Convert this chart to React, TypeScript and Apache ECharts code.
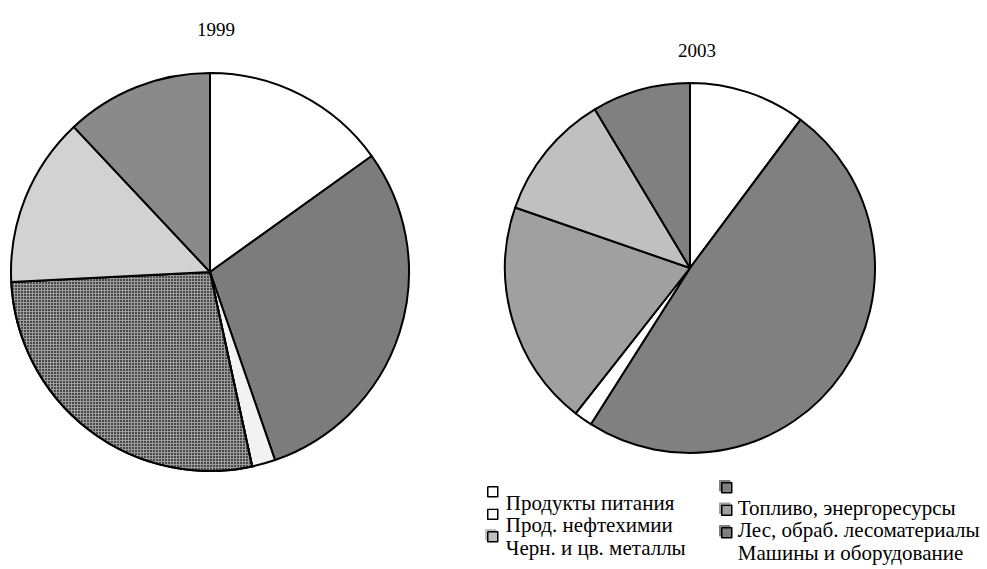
import React, { useEffect, useRef } from "react";
import * as echarts from "echarts";

const categories = [
  "Продукты питания",
  "Топливо, энергоресурсы",
  "Прод. нефтехимии",
  "Лес, обраб. лесоматериалы",
  "Черн. и цв. металлы",
  "Машины и оборудование",
];
const values1999 = [15.1, 29.6, 1.9, 27.6, 13.8, 12.0];
const values2003 = [10.2, 48.8, 1.6, 19.7, 11.1, 8.6];
const years = ["1999", "2003"];
const legendCol1 = ["Продукты питания", "Прод. нефтехимии", "Черн. и цв. металлы"];
const legendCol2 = ["Топливо, энергоресурсы", "Лес, обраб. лесоматериалы", "Машины и оборудование"];

const colors2003 = ["#ffffff", "#808080", "#ffffff", "#a0a0a0", "#c0c0c0", "#808080"];
const colors1999 = ["#ffffff", "#7c7c7c", "#f2f2f2", "#9c9c9c", "#d2d2d2", "#8a8a8a"];

export default function App() {
  const ref = useRef<HTMLDivElement>(null);
  useEffect(() => {
    if (!ref.current) return;
    const chart = echarts.init(ref.current, null, { renderer: "svg" });
    const font = "'Liberation Serif', 'Times New Roman', serif";
    const data2003 = categories.map((name, i) => ({
      name,
      value: values2003[i],
      itemStyle: { color: colors2003[i] },
    }));
    const data1999 = categories.map((name, i) => {
      const item: any = { name, value: values1999[i], itemStyle: { color: colors1999[i] } };
      if (i === 3) {
        item.itemStyle.decal = {
          symbol: "rect",
          symbolSize: 1,
          color: "#4a4a4a",
          dashArrayX: [2, 1],
          dashArrayY: [2, 1],
        };
      }
      return item;
    });
    const colorOf = (name: string) => colors2003[categories.indexOf(name)];
    const legendItems = (names: string[]) =>
      names.map((name) => ({
        name,
        itemStyle: {
          shadowColor: colorOf(name),
          shadowOffsetX: -2,
          shadowOffsetY: -2,
          shadowBlur: 0,
        },
      }));
    const legendBase = (iconH: number, gap: number, padLeft: number) => ({
      orient: "vertical",
      icon: `path://M0,0L10,0L10,10L0,10Z M0,${iconH}L0.01,${iconH}`,
      itemWidth: 10,
      itemHeight: iconH,
      itemGap: gap,
      padding: 0,
      height: 200,
      width: 300,
      selectedMode: false,
      textStyle: {
        fontFamily: font,
        fontSize: 21,
        lineHeight: 20,
        color: "#000",
        padding: [0, 0, 0, padLeft],
      },
      itemStyle: { borderColor: "#000", borderWidth: 1.5 },
    });
    chart.setOption({
      animation: false,
      backgroundColor: "#ffffff",
      title: [
        {
          text: years[0],
          left: 211,
          top: 15,
          textAlign: "center",
          textStyle: { fontFamily: font, fontSize: 19, fontWeight: "normal", color: "#000" },
        },
        {
          text: years[1],
          left: 692,
          top: 36,
          textAlign: "center",
          textStyle: { fontFamily: font, fontSize: 19, fontWeight: "normal", color: "#000" },
        },
      ],
      legend: [
        { ...legendBase(32, -11, 3), data: legendItems(legendCol1), left: 487, top: 486 },
        { ...legendBase(50, -29, 1), data: legendItems(legendCol2), left: 721, top: 482 },
      ],
      series: [
        {
          name: years[1],
          type: "pie",
          center: [690, 268],
          radius: 185,
          startAngle: 90,
          clockwise: true,
          label: { show: false },
          labelLine: { show: false },
          emphasis: { disabled: true },
          itemStyle: { borderColor: "#000", borderWidth: 2 },
          data: data2003,
        },
        {
          name: years[0],
          type: "pie",
          center: [210, 272],
          radius: 199,
          startAngle: 90,
          clockwise: true,
          label: { show: false },
          labelLine: { show: false },
          emphasis: { disabled: true },
          itemStyle: { borderColor: "#000", borderWidth: 2 },
          data: data1999,
        },
      ],
    });
    return () => chart.dispose();
  }, []);
  return (
    <div
      ref={ref}
      style={{ position: "fixed", left: 0, top: 0, width: 987, height: 569, background: "#fff" }}
    />
  );
}
